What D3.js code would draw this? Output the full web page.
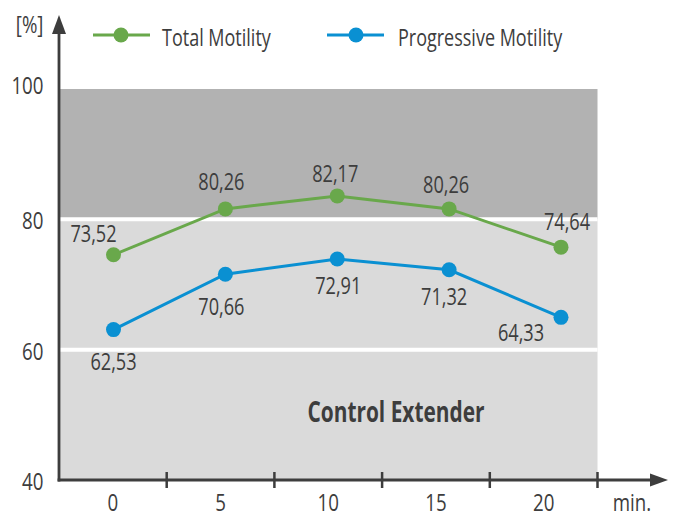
<!DOCTYPE html>
<html>
<head>
<meta charset="utf-8">
<script src="https://cdn.jsdelivr.net/npm/d3@7"></script>
<style>
  body { margin: 0; background: #fff; }
  svg { display: block; }
  text { font-family: "Open Sans", "Noto Sans", sans-serif; fill: #3d3d3d; }
</style>
</head>
<body>
<div id="chart"></div>
<script>
// data
var minutes = ["0", "5", "10", "15", "20"];
var totalMotility = [73.52, 80.26, 82.17, 80.26, 74.64];
var progressiveMotility = [62.53, 70.66, 72.91, 71.32, 64.33];
var yTicks = [40, 60, 80, 100];
var seriesNames = ["Total Motility", "Progressive Motility"];

// label nudges (layout only), [dx, dy] from the point
var totalNudge = [[-20, -13], [-4, -19], [-2, -14], [-3, -16], [6, -17]];
var progNudge = [[0, 40], [-4, 41], [1, 35], [-5, 35], [-40, 24]];

var W = 676, H = 518;
var green = "#69a84b", blue = "#0a90d2", ink = "#3d3d3d";

var svg = d3.select("#chart").append("svg")
    .attr("width", W)
    .attr("height", H);

// condensed look: squeeze text horizontally around its anchor
function place(sel, fx, fy, sx) {
    sel.attr("transform", function(d, i) {
        return "translate(" + fx(d, i) + "," + fy(d, i) + ") scale(" + sx + ",1)";
    });
}
function k(v) { return function() { return v; }; }

// scales
var xBand = d3.scaleBand().domain(minutes).range([59, 597.5]);
var xPt = d3.scalePoint().domain(minutes).range([113.5, 561]);
var y = d3.scaleLinear().domain([40, 100]).range([480, 89]);
var yPt = d3.scaleLinear().domain([40, 100]).range([483, 74.5]);

var fmt = d3.formatLocale({ decimal: ",", thousands: ".", grouping: [3], currency: ["", ""] }).format(".2f");

// background bands
svg.append("rect")
    .attr("x", 59).attr("width", 597.5 - 59)
    .attr("y", y(100)).attr("height", y(80) - y(100))
    .style("fill", "#b2b2b2");
svg.append("rect")
    .attr("x", 59).attr("width", 597.5 - 59)
    .attr("y", y(80)).attr("height", y(40) - y(80))
    .style("fill", "#dadada");

// white grid lines
svg.selectAll(".grid")
    .data([60, 80])
  .enter().append("line")
    .attr("class", "grid")
    .attr("x1", 59).attr("x2", 597.5)
    .attr("y1", function(d) { return y(d); })
    .attr("y2", function(d) { return y(d); })
    .style("stroke", "#fff")
    .style("stroke-width", 4);

// axes
svg.append("line")
    .attr("x1", 59).attr("x2", 59)
    .attr("y1", 481.5).attr("y2", 30)
    .style("stroke", ink).style("stroke-width", 2.8);
svg.append("path")
    .attr("d", "M52,34 L59,15 L66,34 Z")
    .style("fill", ink);
svg.append("line")
    .attr("x1", 57.6).attr("x2", 655)
    .attr("y1", 480).attr("y2", 480)
    .style("stroke", ink).style("stroke-width", 2.8);
svg.append("path")
    .attr("d", "M650,473.5 L668,480 L650,486.5 Z")
    .style("fill", ink);

svg.selectAll(".xtick")
    .data(minutes)
  .enter().append("line")
    .attr("class", "xtick")
    .attr("x1", function(d) { return xBand(d) + xBand.bandwidth(); })
    .attr("x2", function(d) { return xBand(d) + xBand.bandwidth(); })
    .attr("y1", 472).attr("y2", 488)
    .style("stroke", ink).style("stroke-width", 2.5);

svg.selectAll(".xlabel")
    .data(minutes)
  .enter().append("text")
    .attr("class", "xlabel")
    .attr("text-anchor", "middle")
    .style("font-size", "24px")
    .text(function(d) { return d; })
    .call(place, function(d) { return xBand(d) + xBand.bandwidth() / 2; }, k(511), 0.78);

svg.selectAll(".ylabel")
    .data(yTicks)
  .enter().append("text")
    .attr("class", "ylabel")
    .attr("dy", "0.36em")
    .attr("text-anchor", "end")
    .style("font-size", "24px")
    .text(function(d) { return d; })
    .call(place, k(43.5), function(d) { return y(d) + (d === 100 ? -4 : 1.5); }, 0.78);

svg.append("text")
    .attr("text-anchor", "end")
    .style("font-size", "24px")
    .text("[%]")
    .call(place, k(43.5), k(33), 0.78);
svg.append("text")
    .attr("text-anchor", "middle")
    .style("font-size", "24px")
    .text("min.")
    .call(place, k(632), k(511), 0.78);

svg.append("text")
    .attr("text-anchor", "middle")
    .style("font-size", "29px")
    .style("font-weight", "bold")
    .text("Control Extender")
    .call(place, k(396), k(421.5), 0.72);

// series
var series = [
    { name: seriesNames[0], values: totalMotility, color: green, nudge: totalNudge },
    { name: seriesNames[1], values: progressiveMotility, color: blue, nudge: progNudge }
];

var line = d3.line()
    .x(function(d, i) { return xPt(minutes[i]); })
    .y(function(d) { return yPt(d); });

series.forEach(function(s) {
    svg.append("path")
        .datum(s.values)
        .attr("d", line)
        .style("fill", "none")
        .style("stroke", s.color)
        .style("stroke-width", 3);

    svg.selectAll(null)
        .data(s.values)
      .enter().append("circle")
        .attr("cx", function(d, i) { return xPt(minutes[i]); })
        .attr("cy", function(d) { return yPt(d); })
        .attr("r", 7.5)
        .style("fill", s.color);

    svg.selectAll(null)
        .data(s.values)
      .enter().append("text")
        .attr("text-anchor", "middle")
        .style("font-size", "23px")
        .text(function(d) { return fmt(d); })
        .call(place,
              function(d, i) { return xPt(minutes[i]) + s.nudge[i][0]; },
              function(d, i) { return yPt(d) + s.nudge[i][1]; }, 0.79);
});

// legend
var legend = [
    { x0: 93, x1: 150, cx: 121, tx: 162 },
    { x0: 327, x1: 384, cx: 356, tx: 398 }
];
legend.forEach(function(l, i) {
    var g = svg.append("g");
    g.append("line")
        .attr("x1", l.x0).attr("x2", l.x1)
        .attr("y1", 35).attr("y2", 35)
        .style("stroke", series[i].color).style("stroke-width", 3);
    g.append("circle")
        .attr("cx", l.cx).attr("cy", 35).attr("r", 7.5)
        .style("fill", series[i].color);
    g.append("text")
        .style("font-size", "24px")
        .text(series[i].name)
        .call(place, k(l.tx), k(46), 0.75);
});
</script>
</body>
</html>
